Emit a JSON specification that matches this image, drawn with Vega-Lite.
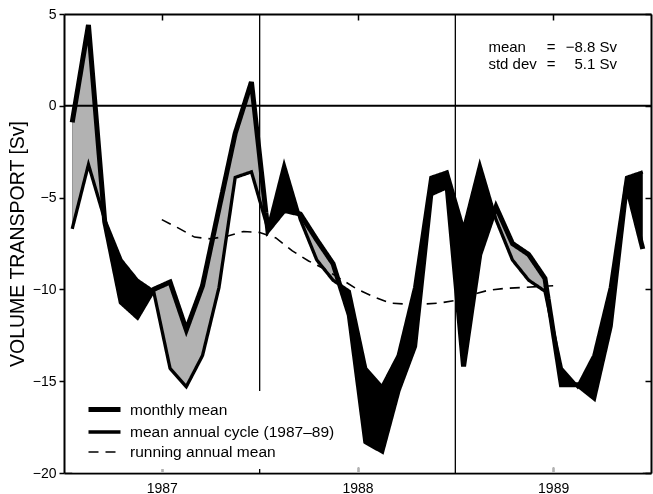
{
  "$schema": "https://vega.github.io/schema/vega-lite/v6.json",
  "width": 587,
  "height": 459,
  "autosize": {"type": "none"},
  "padding": {"left": 64, "top": 14, "right": 2, "bottom": 21},
  "background": "white",
  "config": {
    "view": {"stroke": null},
    "font": "Liberation Sans",
    "axis": {
      "grid": false,
      "domainColor": "black",
      "domainWidth": 2,
      "tickColor": "black",
      "tickWidth": 1.5,
      "labelColor": "black",
      "titleColor": "black",
      "labelFont": "Liberation Sans",
      "labelFontSize": 14,
      "titleFont": "Liberation Sans",
      "zindex": 1
    },
    "legend": {
      "orient": "none",
      "legendX": 14,
      "legendY": 377,
      "fillColor": "white",
      "padding": 8,
      "symbolType": "M-1,0H3",
      "symbolSize": 256,
      "symbolStrokeColor": "black",
      "labelFont": "Liberation Sans",
      "labelFontSize": 15.5,
      "labelColor": "black",
      "labelOffset": 23,
      "labelLimit": 400,
      "rowPadding": 2,
      "title": null
    }
  },
  "datasets": {
    "months": [
      {"t": 1986.542, "m": -0.9, "c": -6.7},
      {"t": 1986.625, "m": 4.4, "c": -3.2},
      {"t": 1986.708, "m": -6.3, "c": -6.2},
      {"t": 1986.792, "m": -10.7, "c": -8.4},
      {"t": 1986.875, "m": -11.5, "c": -9.5},
      {"t": 1986.958, "m": -10.0, "c": -10.1},
      {"t": 1987.042, "m": -9.6, "c": -14.3},
      {"t": 1987.125, "m": -12.2, "c": -15.3},
      {"t": 1987.208, "m": -9.8, "c": -13.6},
      {"t": 1987.292, "m": -5.6, "c": -9.9},
      {"t": 1987.375, "m": -1.5, "c": -3.9},
      {"t": 1987.458, "m": 1.3, "c": -3.6},
      {"t": 1987.542, "m": -6.8, "c": -6.7},
      {"t": 1987.625, "m": -5.7, "c": -3.2},
      {"t": 1987.708, "m": -5.9, "c": -6.2},
      {"t": 1987.792, "m": -7.3, "c": -8.4},
      {"t": 1987.875, "m": -8.6, "c": -9.5},
      {"t": 1987.958, "m": -11.4, "c": -10.1},
      {"t": 1988.042, "m": -18.3, "c": -14.3},
      {"t": 1988.125, "m": -18.8, "c": -15.3},
      {"t": 1988.208, "m": -15.5, "c": -13.6},
      {"t": 1988.292, "m": -13.1, "c": -9.9},
      {"t": 1988.375, "m": -4.8, "c": -3.9},
      {"t": 1988.458, "m": -4.4, "c": -3.6},
      {"t": 1988.542, "m": -14.2, "c": -6.7},
      {"t": 1988.625, "m": -8.1, "c": -3.2},
      {"t": 1988.708, "m": -5.5, "c": -6.2},
      {"t": 1988.792, "m": -7.5, "c": -8.4},
      {"t": 1988.875, "m": -8.1, "c": -9.5},
      {"t": 1988.958, "m": -9.4, "c": -10.1},
      {"t": 1989.042, "m": -15.2, "c": -14.3},
      {"t": 1989.125, "m": -15.2, "c": -15.3},
      {"t": 1989.208, "m": -15.9, "c": -13.6},
      {"t": 1989.292, "m": -12.0, "c": -9.9},
      {"t": 1989.375, "m": -4.3, "c": -3.9},
      {"t": 1989.458, "m": -7.8, "c": -3.6}
    ],
    "running": [
      {"t": 1987.000, "v": -6.2, "series": "r"},
      {"t": 1987.083, "v": -6.65, "series": "r"},
      {"t": 1987.167, "v": -7.15, "series": "r"},
      {"t": 1987.250, "v": -7.25, "series": "r"},
      {"t": 1987.333, "v": -7.1, "series": "r"},
      {"t": 1987.417, "v": -6.85, "series": "r"},
      {"t": 1987.500, "v": -6.9, "series": "r"},
      {"t": 1987.583, "v": -7.2, "series": "r"},
      {"t": 1987.667, "v": -7.9, "series": "r"},
      {"t": 1987.750, "v": -8.45, "series": "r"},
      {"t": 1987.833, "v": -8.9, "series": "r"},
      {"t": 1987.917, "v": -9.45, "series": "r"},
      {"t": 1988.000, "v": -10.0, "series": "r"},
      {"t": 1988.083, "v": -10.4, "series": "r"},
      {"t": 1988.167, "v": -10.75, "series": "r"},
      {"t": 1988.250, "v": -10.8, "series": "r"},
      {"t": 1988.333, "v": -10.8, "series": "r"},
      {"t": 1988.417, "v": -10.75, "series": "r"},
      {"t": 1988.500, "v": -10.6, "series": "r"},
      {"t": 1988.583, "v": -10.3, "series": "r"},
      {"t": 1988.667, "v": -10.05, "series": "r"},
      {"t": 1988.750, "v": -9.95, "series": "r"},
      {"t": 1988.833, "v": -9.9, "series": "r"},
      {"t": 1988.917, "v": -9.85, "series": "r"},
      {"t": 1989.000, "v": -9.8, "series": "r"}
    ],
    "rules": [
      {"t": 1987.5},
      {"t": 1988.5}
    ]
  },
  "resolve": {"axis": {"x": "independent", "y": "independent"}},
  "layer": [
    {
      "data": {"name": "months"},
      "mark": {"type": "area", "color": "black", "interpolate": "linear"},
      "encoding": {
        "x": {"field": "t", "type": "quantitative",
              "scale": {"domain": [1986.5, 1989.5], "nice": false, "zero": false},
              "axis": {"orient": "bottom", "values": [1987, 1988, 1989], "format": "d", "tickSize": -6, "labelPadding": 14, "title": null}},
        "y": {"field": "m", "type": "quantitative",
              "scale": {"domain": [-20, 5], "nice": false, "zero": false},
              "axis": {"orient": "left", "values": [-20, -15, -10, -5, 0, 5], "tickSize": 5, "labelPadding": 3,
                       "title": "VOLUME TRANSPORT [Sv]", "titleFontSize": 19.5, "titleFontWeight": "normal", "titlePadding": 5}},
        "y2": {"field": "c"}
      }
    },
    {
      "data": {"name": "months"},
      "mark": {"type": "area", "color": "#b2b2b2", "blend": "lighten", "interpolate": "linear"},
      "encoding": {
        "x": {"field": "t", "type": "quantitative", "axis": null},
        "y": {"field": "m", "type": "quantitative", "axis": null},
        "y2": {"datum": -20}
      }
    },
    {
      "data": {"name": "rules"},
      "mark": {"type": "rule", "color": "black", "strokeWidth": 1.3},
      "encoding": {
        "x": {"field": "t", "type": "quantitative",
              "axis": {"orient": "top", "values": [1987, 1988, 1989], "labels": false, "tickSize": -6, "title": null}}
      }
    },
    {
      "data": {"values": [{}]},
      "mark": {"type": "rule", "color": "black", "strokeWidth": 2},
      "encoding": {
        "y": {"datum": 0, "type": "quantitative",
              "axis": {"orient": "right", "values": [-20, -15, -10, -5, 0, 5], "labels": false, "tickSize": -6, "title": null}}
      }
    },
    {
      "data": {"name": "running"},
      "mark": {"type": "line", "color": "black", "interpolate": "linear"},
      "encoding": {
        "x": {"field": "t", "type": "quantitative", "axis": null},
        "y": {"field": "v", "type": "quantitative", "axis": null},
        "strokeWidth": {"field": "series", "type": "nominal", "scale": {"domain": ["m", "c", "r"], "range": [5, 1.6, 2.5]},
                        "legend": {"labelExpr": "datum.label == 'm' ? 'monthly mean' : datum.label == 'c' ? 'mean annual cycle (1987–89)' : 'running annual mean'"}},
        "strokeDash": {"field": "series", "type": "nominal", "scale": {"domain": ["m", "c", "r"], "range": [[1, 0], [1, 0], [10, 7]]},
                       "legend": {"labelExpr": "datum.label == 'm' ? 'monthly mean' : datum.label == 'c' ? 'mean annual cycle (1987–89)' : 'running annual mean'"}}
      }
    },
    {
      "data": {"name": "months"},
      "transform": [{"fold": ["m", "c"], "as": ["series", "v"]}],
      "mark": {"type": "line", "color": "black", "interpolate": "linear", "strokeJoin": "miter"},
      "encoding": {
        "x": {"field": "t", "type": "quantitative", "axis": null},
        "y": {"field": "v", "type": "quantitative", "axis": null},
        "strokeWidth": {"field": "series", "type": "nominal"},
        "strokeDash": {"field": "series", "type": "nominal"}
      }
    },
    {
      "data": {"values": [{}]},
      "mark": {"type": "text", "align": "left", "baseline": "middle", "fontSize": 15, "font": "Liberation Sans", "color": "black", "lineHeight": 17, "text": ["mean", "std dev"]},
      "encoding": {
        "x": {"datum": 1988.669, "type": "quantitative", "axis": null},
        "y": {"datum": 3.2, "type": "quantitative", "axis": null}
      }
    },
    {
      "data": {"values": [{}]},
      "mark": {"type": "text", "align": "center", "baseline": "middle", "fontSize": 15, "font": "Liberation Sans", "color": "black", "lineHeight": 17, "text": ["=", "="]},
      "encoding": {
        "x": {"datum": 1988.99, "type": "quantitative", "axis": null},
        "y": {"datum": 3.2, "type": "quantitative", "axis": null}
      }
    },
    {
      "data": {"values": [{}]},
      "mark": {"type": "text", "align": "right", "baseline": "middle", "fontSize": 15, "font": "Liberation Sans", "color": "black", "lineHeight": 17, "text": ["−8.8 Sv", "5.1 Sv"]},
      "encoding": {
        "x": {"datum": 1989.326, "type": "quantitative", "axis": null},
        "y": {"datum": 3.2, "type": "quantitative", "axis": null}
      }
    }
  ]
}
